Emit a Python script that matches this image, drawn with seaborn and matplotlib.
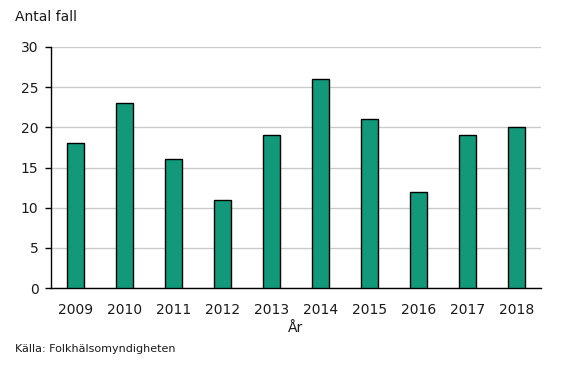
import matplotlib
matplotlib.use("Agg")
import matplotlib.pyplot as plt
import seaborn as sns
import pandas as pd

years = ["2009", "2010", "2011", "2012", "2013", "2014", "2015", "2016", "2017", "2018"]
cases = [18, 23, 16, 11, 19, 26, 21, 12, 19, 20]
yticks = [0, 5, 10, 15, 20, 25, 30]

sns.set_theme(style="white")
plt.rcParams['font.family'] = ['DejaVu Sans']

df = pd.DataFrame({"year": years, "cases": cases})

fig = plt.figure(figsize=(5.67, 3.71), dpi=100)
ax = fig.add_axes([51/567, 1 - 288/371, 490/567, 241/371])

sns.barplot(data=df, x="year", y="cases", color="#11997a", width=0.33,
            edgecolor="black", linewidth=1.0, saturation=1, ax=ax, zorder=3)

ax.set_ylim(0, 30)
ax.set_xlim(-0.5, 9.5)
ax.set_yticks(yticks)
ax.set_yticklabels([str(v) for v in yticks], fontsize=10, color="#1a1a1a")
ax.tick_params(axis="x", length=0, pad=11, labelsize=10, labelcolor="#1a1a1a")
ax.tick_params(axis="y", length=4, width=1, color="black", direction="out", pad=5, left=True)
ax.yaxis.grid(True, color="#c8ccc8", linewidth=1.0, zorder=0)
ax.set_axisbelow(True)

for s in ["top", "right"]:
    ax.spines[s].set_visible(False)
for s in ["left", "bottom"]:
    ax.spines[s].set_color("black")
    ax.spines[s].set_linewidth(1.0)

ax.set_xlabel("År", fontsize=10, color="#1a1a1a", labelpad=3)
ax.set_ylabel("")

fig.text(15/567, 1 - 17/371, "Antal fall", fontsize=10, color="#1a1a1a", va="center", ha="left")
fig.text(15/567, 1 - 349/371, "Källa: Folkhälsomyndigheten", fontsize=8, color="#1a1a1a", va="center", ha="left")

fig.savefig("out.png", dpi=100, facecolor="white")
